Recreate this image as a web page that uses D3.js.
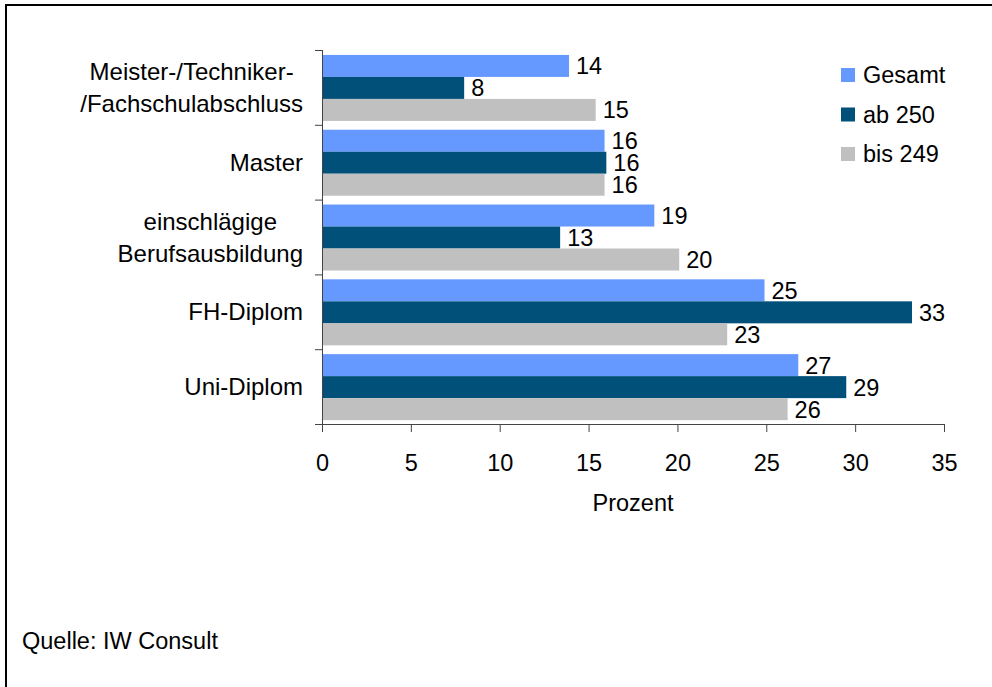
<!DOCTYPE html>
<html>
<head>
<meta charset="utf-8">
<script src="https://cdn.jsdelivr.net/npm/d3@7"></script>
<style>
  html, body { margin: 0; padding: 0; background: #fff; }
  svg text { font-family: "Liberation Sans", Arial, sans-serif; fill: #000; }
</style>
</head>
<body>
<svg id="chart" width="992" height="687"></svg>
<script>
// ---- data ----
const categories = [
  ["Meister-/Techniker-", "/Fachschulabschluss"],
  ["Master"],
  ["einschlägige", "Berufsausbildung"],
  ["FH-Diplom"],
  ["Uni-Diplom"]
];
const seriesNames = ["Gesamt", "ab 250", "bis 249"];
const gesamt = [13.9, 15.9, 18.7, 24.9, 26.8];
const ab250  = [8.0, 16.0, 13.4, 33.2, 29.5];
const bis249 = [15.4, 15.9, 20.1, 22.8, 26.2];
const labelsGesamt = ["14", "16", "19", "25", "27"];
const labelsAb250  = ["8", "16", "13", "33", "29"];
const labelsBis249 = ["15", "16", "20", "23", "26"];
const xTicks = [0, 5, 10, 15, 20, 25, 30, 35];
const colors = ["#6699FF", "#00507A", "#C0C0C0"];

const series = [
  { name: seriesNames[0], values: gesamt, labels: labelsGesamt },
  { name: seriesNames[1], values: ab250, labels: labelsAb250 },
  { name: seriesNames[2], values: bis249, labels: labelsBis249 }
];

// ---- layout ----
const svg = d3.select("#chart");
const FS = 23.5;
const pLeft = 322, pRight = 944, pTop = 50, pBottom = 424;

svg.append("rect")
  .attr("x", 6).attr("y", 5).attr("width", 1000).attr("height", 700)
  .attr("fill", "none").attr("stroke", "#000").attr("stroke-width", 2);

const x = d3.scaleLinear().domain([0, 35]).range([pLeft, pRight]);
const idx = categories.map((d, i) => i);
const y = d3.scaleBand().domain(idx).range([pTop, pBottom]).paddingInner(0).paddingOuter(0);
const yInner = d3.scaleBand().domain([0, 1, 2]).range([0, y.bandwidth()]).paddingInner(0).paddingOuter(0.2).align(0.56);

// bars
const g = svg.append("g");
series.forEach((s, si) => {
  g.selectAll(".bar" + si)
    .data(s.values)
    .enter().append("rect")
    .attr("x", x(0))
    .attr("y", (d, i) => y(i) + yInner(si))
    .attr("width", d => x(d) - x(0))
    .attr("height", yInner.bandwidth())
    .attr("fill", colors[si]);
  g.selectAll(".lab" + si)
    .data(s.values)
    .enter().append("text")
    .attr("x", d => x(d) + 7)
    .attr("y", (d, i) => y(i) + yInner(si) + yInner.bandwidth() / 2)
    .attr("dy", "0.36em")
    .attr("font-size", FS)
    .text((d, i) => s.labels[i]);
});

// x axis
const xAxis = d3.axisBottom(x).tickValues(xTicks).tickSize(8).tickPadding(22).tickFormat(d3.format("d"));
const xg = svg.append("g").attr("transform", `translate(0,${pBottom})`).call(xAxis);
xg.select(".domain").attr("d", `M${pLeft - 7},0.5H${pRight}`).attr("stroke", "#444");
xg.selectAll(".tick line").attr("stroke", "#444");
xg.selectAll(".tick text").attr("font-size", FS).attr("font-family", "Liberation Sans, Arial, sans-serif").attr("fill", "#000");

// y axis (ticks at band boundaries)
const yg = svg.append("g").attr("transform", `translate(${pLeft},0)`);
yg.append("line").attr("x1", 0.5).attr("x2", 0.5).attr("y1", pTop).attr("y2", pBottom).attr("stroke", "#444");
const boundaries = idx.map(i => y(i)).concat([pBottom]);
yg.selectAll(".yt").data(boundaries).enter().append("line")
  .attr("x1", -7).attr("x2", 0).attr("y1", d => d + 0.5).attr("y2", d => d + 0.5).attr("stroke", "#444");

// category labels: multi-line centered, widest line right-aligned at x=303
categories.forEach((lines, i) => {
  const cy = y(i) + y.bandwidth() / 2;
  const lh = 32;
  const t = svg.append("text").attr("font-size", 24).attr("text-anchor", "middle");
  lines.forEach((ln, k) => {
    t.append("tspan").attr("y", cy + (k - (lines.length - 1) / 2) * lh).attr("dy", "0.36em").text(ln);
  });
  let maxW = 0;
  t.selectAll("tspan").each(function () { maxW = Math.max(maxW, this.getComputedTextLength()); });
  t.selectAll("tspan").attr("x", 303 - maxW / 2);
});

// axis title
svg.append("text").attr("x", (pLeft + pRight) / 2).attr("y", 503).attr("dy", "0.36em")
  .attr("text-anchor", "middle").attr("font-size", FS).text("Prozent");

// legend
const lg = svg.append("g");
seriesNames.forEach((n, i) => {
  const cy = 75 + i * 39.5;
  lg.append("rect").attr("x", 841).attr("y", cy - 7).attr("width", 14).attr("height", 14).attr("fill", colors[i]);
  lg.append("text").attr("x", 863).attr("y", cy).attr("dy", "0.36em").attr("font-size", FS).text(n);
});

// source
svg.append("text").attr("x", 22).attr("y", 641).attr("dy", "0.36em").attr("font-size", FS).text("Quelle: IW Consult");
</script>
</body>
</html>
